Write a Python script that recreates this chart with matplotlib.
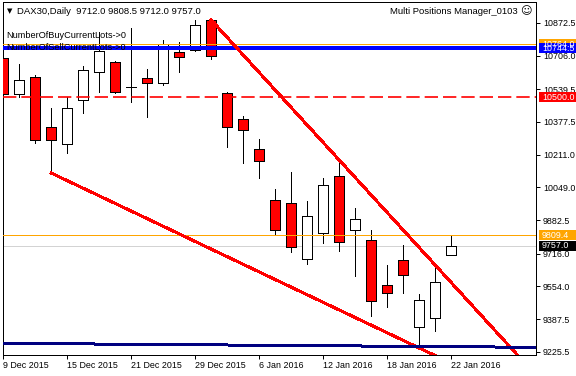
import matplotlib
matplotlib.use('Agg')
import matplotlib.pyplot as plt
from matplotlib.patches import Rectangle
from matplotlib.transforms import blended_transform_factory

plt.rcParams['font.family'] = ['Liberation Sans', 'DejaVu Sans']
plt.rcParams['lines.antialiased'] = False
plt.rcParams['patch.antialiased'] = False

# DAX30 daily bars
dates = ['9 Dec 2015', '10 Dec 2015', '11 Dec 2015', '14 Dec 2015', '15 Dec 2015',
         '16 Dec 2015', '17 Dec 2015', '18 Dec 2015', '21 Dec 2015', '22 Dec 2015',
         '23 Dec 2015', '28 Dec 2015', '29 Dec 2015', '30 Dec 2015',
         '4 Jan 2016', '5 Jan 2016', '6 Jan 2016', '7 Jan 2016', '8 Jan 2016',
         '11 Jan 2016', '12 Jan 2016', '13 Jan 2016', '14 Jan 2016', '15 Jan 2016',
         '18 Jan 2016', '19 Jan 2016', '20 Jan 2016', '21 Jan 2016', '22 Jan 2016']
opens = [10696, 10516, 10601, 10350, 10265, 10486, 10626, 10676, 10551, 10596,
         10571, 10726, 10736, 10886, 10521, 10390, 10240, 9984, 9969, 9690,
         9820, 10105, 9835, 9785, 9560, 9685, 9349, 9394, 9712.0]
highs = [10700, 10666, 10611, 10446, 10501, 10656, 10826, 10681, 10846, 10641,
         10786, 10776, 10886, 10888, 10526, 10405, 10290, 10039, 10125, 9980,
         10095, 10170, 9945, 9835, 9660, 9760, 9514, 9665, 9808.5]
lows = [10450, 10501, 10270, 10120, 10220, 10420, 10526, 10521, 10475, 10400,
        10561, 10626, 10731, 10691, 10250, 10170, 10095, 9809, 9725, 9665,
        9770, 9730, 9605, 9404, 9449, 9519, 9249, 9329, 9712.0]
closes = [10516, 10586, 10285, 10285, 10446, 10636, 10731, 10526, 10549, 10571,
          10766, 10701, 10861, 10706, 10350, 10335, 10180, 9834, 9750, 9905,
          10060, 9775, 9890, 9479, 9519, 9610, 9484, 9575, 9757.0]

# horizontal levels
buy_level = 10744.5
tp_level = 10764.0
sl_level = 10500.0
ask_price = 9809.4
bid_price = 9757.0

# trendlines: (bar index, price) anchors, drawn as rays to the right
upper_tl = ([13, 21], [10886, 10185])
lower_tl = ([3, 26], [10120, 9244])
navy_tl = ([0, 33], [9267.5, 9247.7])

yticks = [9225.5, 9387.5, 9554.0, 9716.0, 9882.5, 10049.0, 10211.0,
          10377.5, 10539.5, 10706.0, 10872.5]

W, H = 576, 376
PX = 0.72  # one pixel in points
fig = plt.figure(figsize=(W / 100, H / 100), dpi=100)
ax = fig.add_axes([2.7 / W, 1 - 354.5 / H, (536 - 2.7) / W, (354.5 - 1.7) / H])

n = len(opens)
xs = list(range(n))

# candles
for i in xs:
    o, h, l, c = opens[i], highs[i], lows[i], closes[i]
    ax.vlines(i, l, h, color='black', lw=PX, zorder=2)
    fill = 'white' if c >= o else '#ff0000'
    ax.bar(i, max(abs(c - o), 0.5), bottom=min(o, c), width=0.63,
           color=fill, edgecolor='black', lw=PX, zorder=3)

xlim = ((2.7 - 3.2) / 16, (536 - 3.2) / 16)

# horizontal lines
ax.axhline(tp_level, color='#ffa500', lw=PX, zorder=4)
ax.axhline(buy_level, color='#0000ff', lw=1.7, zorder=4)
ax.hlines(sl_level, xlim[0], xlim[1], colors='#ff0000', lw=1.2, zorder=6,
          linestyles=(0, (8, 3)), antialiased=True)
ax.axhline(ask_price, color='#ffa500', lw=PX, zorder=4)
ax.axhline(bid_price, color='#d3d3d3', lw=PX, zorder=1)


def ray(anchor, color, lw):
    (x0, x1), (y0, y1) = anchor
    slope = (y1 - y0) / (x1 - x0)
    x_end = 40
    ax.plot([x0, x_end], [y0, y0 + slope * (x_end - x0)], color=color, lw=lw, zorder=5)


ray(upper_tl, '#ff0000', 2 * PX)
ray(lower_tl, '#ff0000', 2 * PX)
(nx0, nx1), (ny0, ny1) = navy_tl
nslope = (ny1 - ny0) / (nx1 - nx0)
ax.plot([-2, 40], [ny0 + nslope * (-2 - nx0), ny0 + nslope * (40 - nx0)],
        color='#000080', lw=2 * PX, zorder=5)

ax.set_xlim(*xlim)
ax.set_ylim(10986.14 - 5.006 * 354.5, 10986.14 - 5.006 * 1.7)

# axes styling
for s in ax.spines.values():
    s.set_color('black')
    s.set_linewidth(PX)
ax.yaxis.tick_right()
ax.set_yticks(yticks)
ax.set_yticklabels(['%.1f' % v for v in yticks])
ax.set_xticks(xs[::4])
ax.set_xticklabels(dates[::4])
for lab in ax.get_xticklabels():
    lab.set_ha('left')
ax.tick_params(axis='both', length=3, width=PX, labelsize=6.4, pad=1.5, colors='black')
ax.tick_params(axis='y', pad=2)

# price tags on the right
tag_tr = blended_transform_factory(fig.transFigure, ax.transData)
tags = [(tp_level, '#ffa500'), (buy_level, '#0000ff'), (sl_level, '#ff0000'),
        (ask_price, '#ffa500'), (bid_price, '#000000')]
for price, col in tags:
    ax.add_patch(Rectangle((539 / W, price - 25), 40 / W, 50, transform=tag_tr,
                           facecolor=col, edgecolor='none', clip_on=False, zorder=10))
    ax.text(542 / W, price, '%.1f' % price, transform=tag_tr, color='white',
            fontsize=6.4, va='center', ha='left', clip_on=False, zorder=11)

# header texts
fig.text(7 / W, 1 - 11 / H, '\u25bc', fontsize=5, family='DejaVu Sans', va='center')
fig.text(17 / W, 1 - 11 / H, 'DAX30,Daily  9712.0 9808.5 9712.0 9757.0',
         fontsize=6.8, va='center')
fig.text(518 / W, 1 - 11 / H, 'Multi Positions Manager_0103', fontsize=6.8,
         va='center', ha='right')
fig.text(525.5 / W, 1 - 11 / H, '\u263a', fontsize=8, family='DejaVu Sans',
         va='center', ha='center')
fig.text(6.7 / W, 1 - 35 / H, 'NumberOfBuyCurrentLots->0', fontsize=6.6, va='center')
fig.text(6.7 / W, 1 - 47.7 / H, 'NumberOfSellCurrentLots->0', fontsize=6.6, va='center')

fig.savefig('out.png', dpi=100)
